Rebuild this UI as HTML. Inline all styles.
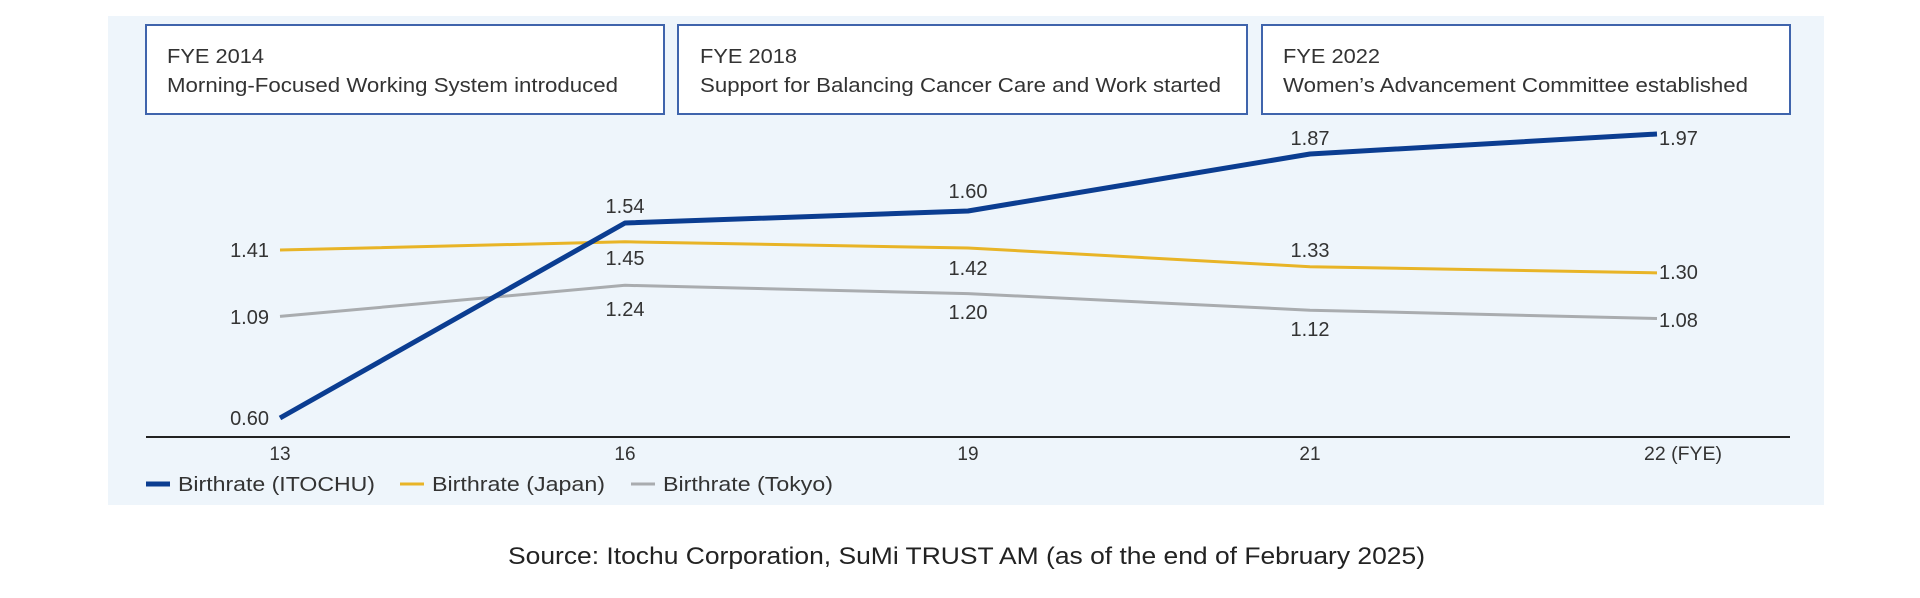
<!DOCTYPE html>
<html><head><meta charset="utf-8"><style>
html,body{margin:0;padding:0;background:#fff;}
svg{display:block;}
text{font-family:"Liberation Sans",sans-serif;fill:#333;}
</style></head><body>
<svg width="1920" height="598" viewBox="0 0 1920 598" xmlns="http://www.w3.org/2000/svg">
<rect x="108" y="16" width="1716" height="489" fill="#eef5fb"/>
<g fill="#fff" stroke="#3f64ac" stroke-width="2">
<rect x="146" y="25" width="518" height="89"/>
<rect x="678" y="25" width="569" height="89"/>
<rect x="1262" y="25" width="528" height="89"/>
</g>
<g font-size="20">
<text x="167" y="63" textLength="97" lengthAdjust="spacingAndGlyphs">FYE 2014</text>
<text x="167" y="92" textLength="451" lengthAdjust="spacingAndGlyphs">Morning-Focused Working System introduced</text>
<text x="700" y="63" textLength="97" lengthAdjust="spacingAndGlyphs">FYE 2018</text>
<text x="700" y="92" textLength="521" lengthAdjust="spacingAndGlyphs">Support for Balancing Cancer Care and Work started</text>
<text x="1283" y="63" textLength="97" lengthAdjust="spacingAndGlyphs">FYE 2022</text>
<text x="1283" y="92" textLength="465" lengthAdjust="spacingAndGlyphs">Women’s Advancement Committee established</text>
</g>
<line x1="146" y1="437" x2="1790" y2="437" stroke="#222" stroke-width="2"/>
<g font-size="19" text-anchor="middle">
<text x="280" y="460">13</text>
<text x="625" y="460">16</text>
<text x="968" y="460">19</text>
<text x="1310" y="460">21</text>
<text x="1683" y="460" textLength="78" lengthAdjust="spacingAndGlyphs">22 (FYE)</text>
</g>
<polyline points="280,316.4 625,285.3 968,293.6 1310,310.2 1657,318.5" fill="none" stroke="#a9acaf" stroke-width="3"/>
<polyline points="280,250 625,241.8 968,248 1310,266.7 1657,272.9" fill="none" stroke="#e8b427" stroke-width="3"/>
<polyline points="280,418 625,223 968,211 1310,154 1657,134" fill="none" stroke="#0b3d91" stroke-width="5" stroke-linejoin="round"/>
<g font-size="20">
<g text-anchor="end">
<text x="269" y="257">1.41</text>
<text x="269" y="324">1.09</text>
<text x="269" y="425">0.60</text>
</g>
<g text-anchor="middle">
<text x="625" y="213">1.54</text>
<text x="625" y="265">1.45</text>
<text x="625" y="316">1.24</text>
<text x="968" y="198">1.60</text>
<text x="968" y="275">1.42</text>
<text x="968" y="319">1.20</text>
<text x="1310" y="145">1.87</text>
<text x="1310" y="257">1.33</text>
<text x="1310" y="336">1.12</text>
</g>
<text x="1659" y="145">1.97</text>
<text x="1659" y="279">1.30</text>
<text x="1659" y="327">1.08</text>
</g>
<line x1="146" y1="484" x2="170" y2="484" stroke="#0b3d91" stroke-width="5"/>
<line x1="400" y1="484" x2="424" y2="484" stroke="#e8b427" stroke-width="3"/>
<line x1="631" y1="484" x2="655" y2="484" stroke="#a9acaf" stroke-width="3"/>
<g font-size="20">
<text x="178" y="491" textLength="197" lengthAdjust="spacingAndGlyphs">Birthrate (ITOCHU)</text>
<text x="432" y="491" textLength="173" lengthAdjust="spacingAndGlyphs">Birthrate (Japan)</text>
<text x="663" y="491" textLength="170" lengthAdjust="spacingAndGlyphs">Birthrate (Tokyo)</text>
</g>
<text x="508" y="564" font-size="24" fill="#222" textLength="917" lengthAdjust="spacingAndGlyphs" style="fill:#222">Source: Itochu Corporation, SuMi TRUST AM (as of the end of February 2025)</text>
</svg>
</body></html>
